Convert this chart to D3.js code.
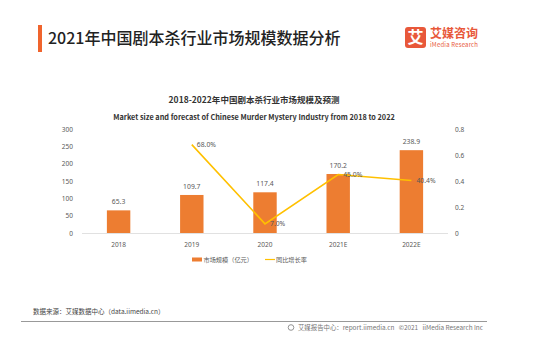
<!DOCTYPE html>
<html><head><meta charset="utf-8">
<script src="https://cdn.jsdelivr.net/npm/d3@7"></script>
<style>body{margin:0;background:#fff;}svg{display:block;font-family:"Noto Sans CJK SC","Noto Sans",sans-serif;}</style>
</head><body>
<svg id="c" width="553" height="355"></svg>
<script>
const categories = ["2018","2019","2020","2021E","2022E"];
const marketSize = [65.3,109.7,117.4,170.2,238.9];
const growthRate = [null,0.68,0.07,0.45,0.404];
const growthLabels = ["","68.0%","7.0%","45.0%","40.4%"];
const leftTicks = [0,50,100,150,200,250,300];
const rightTicks = [0,0.2,0.4,0.6,0.8];

const svg = d3.select("#c");
const gray = "#595959";

// header
svg.append("rect").attr("x",38).attr("y",25).attr("width",4).attr("height",27).attr("fill","#F0642D");
svg.append("text").attr("x",48).attr("y",44).attr("font-size",16).attr("font-weight",500).attr("fill","#222")
  .text("2021年中国剧本杀行业市场规模数据分析");
// logo
svg.append("rect").attr("x",405).attr("y",27).attr("width",21).attr("height",21).attr("rx",3).attr("fill","#E8583A");
svg.append("text").attr("x",415.5).attr("y",43).attr("text-anchor","middle").attr("font-size",16).attr("font-weight",700).attr("fill","#fff").text("艾");
svg.append("text").attr("x",430).attr("y",38).attr("font-size",12).attr("font-weight",700).attr("fill","#E8583A").text("艾媒咨询");
svg.append("text").attr("x",430).attr("y",46.5).attr("font-size",6).attr("fill","#E8583A").attr("textLength",48).text("iMedia Research");

// chart titles
svg.append("text").attr("x",254).attr("y",103).attr("text-anchor","middle").attr("font-size",8.5).attr("font-weight",700).attr("fill","#333")
  .text("2018-2022年中国剧本杀行业市场规模及预测");
svg.append("text").attr("x",254).attr("y",119.5).attr("text-anchor","middle").attr("font-size",7.3).attr("font-weight",600).attr("fill","#333")
  .text("Market size and forecast of Chinese Murder Mystery Industry from 2018 to 2022");

const x = d3.scaleBand().domain(categories).range([82,448]).paddingInner(0.68).paddingOuter(0.34);
const yL = d3.scaleLinear().domain([0,300]).range([233,129]);
const yR = d3.scaleLinear().domain([0,0.8]).range([233,129]);

// baseline
svg.append("line").attr("x1",82).attr("x2",448).attr("y1",233.5).attr("y2",233.5).attr("stroke","#d9d9d9").attr("stroke-width",0.8);

// left axis
const la = svg.append("g").attr("transform","translate(73,0)")
  .call(d3.axisLeft(yL).tickValues(leftTicks).tickSize(0).tickPadding(0));
la.select(".domain").remove();
la.selectAll("text").attr("font-size",6.5).attr("fill",gray).attr("font-family","Noto Sans, sans-serif");

// right axis
const ra = svg.append("g").attr("transform","translate(455,0)")
  .call(d3.axisRight(yR).tickValues(rightTicks).tickFormat(d=>d===0?"0":d3.format(".1f")(d)).tickSize(0).tickPadding(0));
ra.select(".domain").remove();
ra.selectAll("text").attr("font-size",6.5).attr("fill",gray).attr("font-family","Noto Sans, sans-serif");

// bottom axis
const ba = svg.append("g").attr("transform","translate(0,233)")
  .call(d3.axisBottom(x).tickSize(0).tickPadding(9));
ba.select(".domain").remove();
ba.selectAll("text").attr("font-size",6.5).attr("fill",gray).attr("font-family","Noto Sans, sans-serif");

// bars
svg.selectAll("rect.bar").data(categories).join("rect").attr("class","bar")
  .attr("x",d=>x(d)).attr("width",x.bandwidth())
  .attr("y",(d,i)=>yL(marketSize[i])).attr("height",(d,i)=>yL(0)-yL(marketSize[i]))
  .attr("fill","#ED7D31");
svg.selectAll("text.bl").data(categories).join("text").attr("class","bl")
  .attr("x",d=>x(d)+x.bandwidth()/2).attr("y",(d,i)=>yL(marketSize[i])-6)
  .attr("text-anchor","middle").attr("font-size",6.8).attr("fill",gray).attr("font-family","Noto Sans, sans-serif")
  .text((d,i)=>marketSize[i].toFixed(1));

// line
const pts = categories.map((c,i)=>({c,v:growthRate[i],l:growthLabels[i]})).filter(p=>p.v!==null);
svg.append("path").datum(pts)
  .attr("d",d3.line().x(p=>x(p.c)+x.bandwidth()/2).y(p=>yR(p.v)))
  .attr("fill","none").attr("stroke","#FFC000").attr("stroke-width",1.6);
svg.selectAll("text.ll").data(pts).join("text").attr("class","ll")
  .attr("x",p=>x(p.c)+x.bandwidth()/2+5).attr("y",p=>yR(p.v)+2.5)
  .attr("font-size",6.8).attr("fill",gray).attr("font-family","Noto Sans, sans-serif")
  .text(p=>p.l);

// legend
svg.append("rect").attr("x",192).attr("y",257.5).attr("width",10).attr("height",4).attr("fill","#ED7D31");
svg.append("text").attr("x",203.5).attr("y",262).attr("font-size",6.2).attr("fill",gray).text("市场规模（亿元）");
svg.append("line").attr("x1",265).attr("x2",275).attr("y1",259.5).attr("y2",259.5).attr("stroke","#FFC000").attr("stroke-width",1.2);
svg.append("text").attr("x",276).attr("y",262).attr("font-size",6.2).attr("fill",gray).text("同比增长率");

// footer
svg.append("text").attr("x",33).attr("y",313.5).attr("font-size",6.5).attr("fill","#444").text("数据来源：艾媒数据中心（data.iimedia.cn）");
svg.append("line").attr("x1",21).attr("x2",487).attr("y1",321.5).attr("y2",321.5).attr("stroke","#999").attr("stroke-width",1);
svg.append("circle").attr("cx",291).attr("cy",327.5).attr("r",2.8).attr("fill","none").attr("stroke","#888").attr("stroke-width",0.9);
svg.append("text").attr("x",483).attr("y",329.5).attr("text-anchor","end").attr("font-size",6.4).attr("fill","#777")
  .style("white-space","pre")
  .text("艾媒报告中心：report.iimedia.cn   ©2021   iiMedia Research Inc");
</script>
</body></html>
